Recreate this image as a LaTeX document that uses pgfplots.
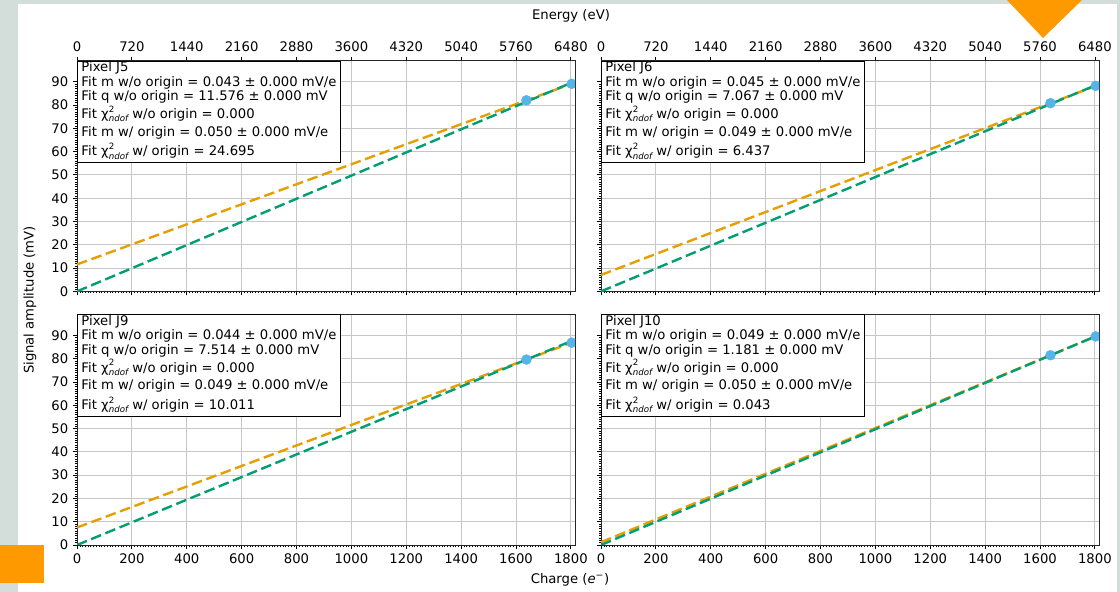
\documentclass[border=0pt]{standalone}
\usepackage{fontspec}
\setmainfont{DejaVu Sans}
\usepackage{pgfplots}
\pgfplotsset{compat=1.18}
\definecolor{cor}{HTML}{E69F00}
\definecolor{cgr}{HTML}{009E73}
\definecolor{cbl}{HTML}{56B4E9}
\definecolor{bgc}{HTML}{D3DEDB}
\definecolor{deco}{HTML}{FF9900}
\newcommand{\chisq}{χ\rlap{\raisebox{0.85ex}{\fontsize{6.5}{7}\selectfont 2}}\raisebox{-0.45ex}{\fontsize{6.5}{7}\selectfont\itshape ndof}}
\tikzset{fitbox/.style={anchor=north west, draw=black, fill=white, line width=0.7pt,
    inner xsep=3pt, inner ysep=0.3pt, align=left, font=\fontsize{9.9}{11}\selectfont}}
\pgfplotsset{
  panel/.style={width=373.5pt,height=173pt,scale only axis,anchor=south west,
    xmin=0,xmax=1815,ymin=0,ymax=99,
    xtick={0,200,...,1800}, ytick={0,10,...,90},
    minor x tick num=19, minor y tick num=9,
    grid=major, major grid style={black!22, line width=0.6pt},
    tick align=outside, xtick pos=lower, ytick pos=left,
    major tick length=3pt, minor tick length=1.5pt,
    major tick style={black, line width=0.6pt}, minor tick style={black, line width=0.35pt},
    axis line style={line width=0.7pt, black!85},
    ticklabel style={font=\fontsize{9.9}{11}\selectfont},
    /pgf/number format/assume math mode=true,
    /pgf/number format/1000 sep={}, scaled ticks=false,
    clip marker paths=true},
  energy/.style={width=373.5pt,height=173pt,scale only axis,anchor=south west,
    xmin=0,xmax=6534,ymin=0,ymax=99,
    axis x line*=top, axis y line=none,
    xtick={0,720,...,6480}, tick align=outside,
    major tick length=3pt, major tick style={black, line width=0.6pt},
    axis line style={line width=0.7pt, black!85},
    ticklabel style={font=\fontsize{9.9}{11}\selectfont},
    /pgf/number format/assume math mode=true,
    /pgf/number format/1000 sep={}, scaled ticks=false},
  orl/.style={cor, line width=1.8pt, dash pattern=on 8pt off 3.5pt},
  grl/.style={cgr, line width=1.8pt, dash pattern=on 8pt off 3.5pt},
  pts/.style={only marks, mark=*, mark size=3.7pt, color=cbl, mark options={draw=cbl, fill=cbl}}
}
\newcommand{\fitlines}[6]{Pixel #1\\
Fit m w/o origin = #2 ± 0.000 mV/e\\
Fit q w/o origin = #3 ± 0.000 mV\\[0.6pt]
Fit \chisq{} w/o origin = 0.000\\[2.4pt]
Fit m w/ origin = #4 ± 0.000 mV/e\\[2.2pt]
Fit \chisq{} w/ origin = #5\rule[-5pt]{0pt}{5pt}}
\begin{document}
\begin{tikzpicture}
\useasboundingbox (0,0) rectangle (840pt,444pt);
\fill[bgc] (0,0) rectangle (840pt,444pt);
\fill[white] (13.5pt,0) rectangle (837.75pt,441pt);

% Top-left: Pixel J5
\begin{axis}[panel, at={(57.75pt,225.45pt)}, xticklabels=\empty]
\addplot[orl] coordinates {(0,11.576) (1803,89.105)};
\addplot[grl] coordinates {(0,0) (1803,89.6)};
\addplot[pts] coordinates {(1638,82.01) (1803,89.10)};
\node[fitbox] at (rel axis cs:0,1) {\fitlines{J5}{0.043}{11.576}{0.050}{24.695}{}};
\end{axis}
\begin{axis}[energy, at={(57.75pt,225.45pt)}]
\end{axis}

% Top-right: Pixel J6
\begin{axis}[panel, at={(450.75pt,225.45pt)}, xticklabels=\empty, yticklabels=\empty]
\addplot[orl] coordinates {(0,7.067) (1803,88.20)};
\addplot[grl] coordinates {(0,0) (1803,88.5)};
\addplot[pts] coordinates {(1638,80.78) (1803,88.20)};
\node[fitbox] at (rel axis cs:0,1) {\fitlines{J6}{0.045}{7.067}{0.049}{6.437}{}};
\end{axis}
\begin{axis}[energy, at={(450.75pt,225.45pt)}]
\end{axis}

% Bottom-left: Pixel J9
\begin{axis}[panel, at={(57.75pt,35.25pt)}]
\addplot[orl] coordinates {(0,7.514) (1803,86.85)};
\addplot[grl] coordinates {(0,0) (1803,87.6)};
\addplot[pts] coordinates {(1638,79.59) (1803,86.85)};
\node[fitbox] at (rel axis cs:0,1) {\fitlines{J9}{0.044}{7.514}{0.049}{10.011}{}};
\end{axis}

% Bottom-right: Pixel J10
\begin{axis}[panel, at={(450.75pt,35.25pt)}, yticklabels=\empty]
\addplot[orl] coordinates {(0,1.181) (1803,89.53)};
\addplot[grl] coordinates {(0,0) (1803,89.6)};
\addplot[pts] coordinates {(1638,81.44) (1803,89.53)};
\node[fitbox] at (rel axis cs:0,1) {\fitlines{J10}{0.049}{1.181}{0.050}{0.043}{}};
\end{axis}

\node[font=\fontsize{9.9}{11}\selectfont] at (428.25pt,432pt) {Energy (eV)};
\node[font=\fontsize{9.9}{11}\selectfont] at (427.5pt,9pt) {Charge (\textit{e}\textsuperscript{−})};
\node[font=\fontsize{9.9}{11}\selectfont, rotate=90] at (22.5pt,219pt) {Signal amplitude (mV)};

\fill[deco] (755.25pt,444pt) -- (811.5pt,444pt) -- (782.25pt,415.5pt) -- cycle;
\fill[deco] (0,7pt) rectangle (33.25pt,35.25pt);
\end{tikzpicture}
\end{document}
